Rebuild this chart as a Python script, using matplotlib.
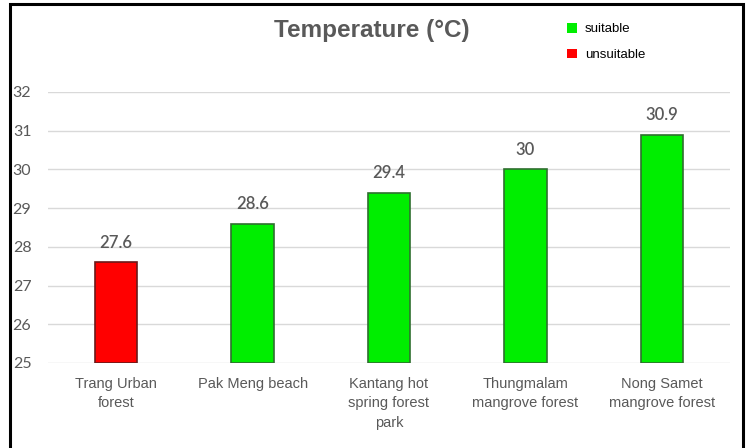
import matplotlib.pyplot as plt
from matplotlib.patches import Rectangle, Patch

sites = ["Trang Urban\nforest", "Pak Meng beach", "Kantang hot\nspring forest\npark",
         "Thungmalam\nmangrove forest", "Nong Samet\nmangrove forest"]
temps = [27.6, 28.6, 29.4, 30.0, 30.9]
status = ["unsuitable", "suitable", "suitable", "suitable", "suitable"]
value_labels = ["27.6", "28.6", "29.4", "30", "30.9"]
yticks = [25, 26, 27, 28, 29, 30, 31, 32]

fill = {"suitable": "#00ee00", "unsuitable": "#ff0000"}
edge = {"suitable": "#2f6f2f", "unsuitable": "#6a1a1a"}
grey = "#595959"

fig = plt.figure(figsize=(7.5, 4.48), dpi=100)
ax = fig.add_axes([48 / 750, 1 - 363 / 448, 682 / 750, 271 / 448])

x = list(range(len(sites)))
ax.bar(x, [t - 25 for t in temps], bottom=25, width=0.31,
       color=[fill[s] for s in status], edgecolor=[edge[s] for s in status],
       linewidth=1.2, zorder=3)

for xi, t, lab in zip(x, temps, value_labels):
    ax.text(xi, t + 0.5, lab, ha="center", va="center", fontsize=12,
            color=grey, family="Lato", fontweight="semibold")

ax.set_xlim(-0.5, len(sites) - 0.5)
ax.set_ylim(25, 32)
ax.set_yticks(yticks)
ax.set_yticklabels([str(v) for v in yticks], family="Lato", fontsize=11.5, color=grey)
ax.set_xticks(x)
ax.set_xticklabels(sites, family="Liberation Sans", fontsize=10.5, color=grey,
                   linespacing=1.5)
ax.tick_params(axis="y", length=0, pad=12)
ax.tick_params(axis="x", length=0, pad=10)
ax.yaxis.grid(True, color="#d9d9d9", linewidth=1, zorder=0)
for sp in ax.spines.values():
    sp.set_visible(False)

fig.text(372 / 750, 1 - 30 / 448, "Temperature (°C)", ha="center", va="center",
         fontsize=17.5, fontweight="bold", color=grey, family="Liberation Sans")

handles = [Patch(facecolor=fill["suitable"], edgecolor="none", label="suitable"),
           Patch(facecolor=fill["unsuitable"], edgecolor="none", label="unsuitable")]
fig.legend(handles=handles, loc="upper left", bbox_to_anchor=(555 / 750, 1 - 11 / 448),
           frameon=False, handlelength=0.75, handleheight=0.75,
           handletextpad=0.6, labelspacing=1.0,
           prop={"family": "Liberation Sans", "size": 9.5})

fig.patches.append(Rectangle((10 / 750, -0.05), 733 / 750, 1.05 - 4 / 448,
                             transform=fig.transFigure, fill=False,
                             edgecolor="black", linewidth=2.2))

fig.savefig("out.png", dpi=100)
